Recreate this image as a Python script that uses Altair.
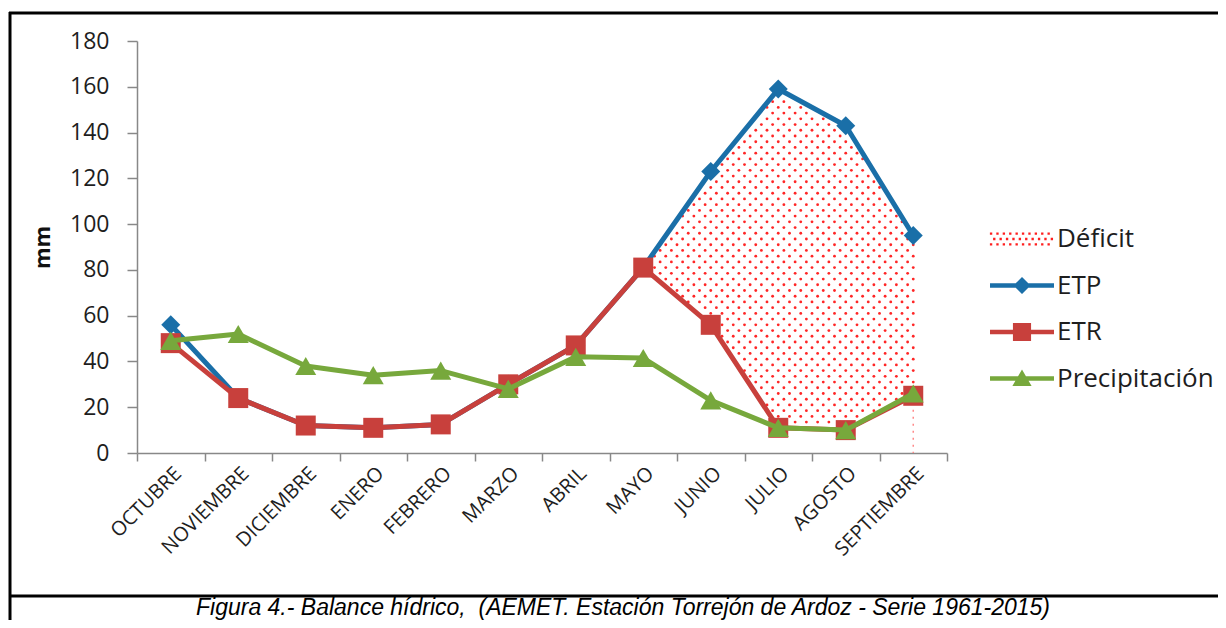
import altair as alt
import pandas as pd

# ---------------- data ----------------
months = ["OCTUBRE", "NOVIEMBRE", "DICIEMBRE", "ENERO", "FEBRERO", "MARZO",
          "ABRIL", "MAYO", "JUNIO", "JULIO", "AGOSTO", "SEPTIEMBRE"]
etp = [56, 24, 12, 11, 12.5, 30, 47, 81, 123, 159, 143, 95]
etr = [48, 24, 12, 11, 12.5, 30, 47, 81, 56, 11, 10, 25]
precip = [49, 52, 38, 34, 36, 28, 42, 41.5, 23, 11, 10, 26]
series = ["Déficit", "ETP", "ETR", "Precipitación"]
colors = ["#ff1f1f", "#1a6fa8", "#c8403c", "#77a83c"]
deficit_from, deficit_to = "MAYO", "SEPTIEMBRE"
y_ticks = list(range(0, 181, 20))
y_title = "mm"
caption = "Figura 4.- Balance hídrico,\u00a0 (AEMET. Estación Torrejón de Ardoz - Serie 1961-2015)"

df = pd.DataFrame({"mes": months, "etp": etp, "etr": etr, "precip": precip})

i0, i1 = months.index(deficit_from), months.index(deficit_to)
seg = pd.DataFrame({
    "i": list(range(i0, i1)),
    "etp0": etp[i0:i1], "etp1": etp[i0 + 1:i1 + 1],
    "etr0": etr[i0:i1], "etr1": etr[i0 + 1:i1 + 1],
    "last": [0] * (i1 - i0 - 1) + [1],
})

FONT = "Open Sans"
TXT = "#1e1e1e"
AX = "#888888"


def xdef():
    return alt.X("mes:N", sort=months, bandPosition=0.5,
                 scale=alt.Scale(type="band", domain=months, paddingInner=0, paddingOuter=0),
                 axis=alt.Axis(title=None, tickBand="extent", labelAngle=-45, labelAlign="right",
                               labelBaseline="top", labelPadding=2, tickSize=8,
                               labelFont=FONT, labelFontSize=20, labelColor=TXT,
                               domainColor=AX, tickColor=AX, domainWidth=1.5, tickWidth=1.5,
                               labelOverlap=False))


def ydef(field):
    return alt.Y(f"{field}:Q", scale=alt.Scale(domain=[0, 180], nice=False, zero=True),
                 axis=alt.Axis(title=y_title, values=y_ticks, grid=False, tickSize=10, labelPadding=18,
                               labelFont=FONT, labelFontSize=23, labelColor=TXT,
                               domainColor=AX, tickColor=AX, domainWidth=1.5, tickWidth=1.5,
                               titleFont=FONT, titleFontSize=22, titleFontWeight="bold",
                               titleColor="#111111", titleX=-95, titleY=206, titleAngle=-90,
                               titleAlign="center", titleBaseline="middle"))


def series_layer(field, color, shape, size):
    return alt.Chart(df).mark_line(
        color=color, strokeWidth=5, strokeJoin="round", strokeCap="round",
        point=alt.OverlayMarkDef(shape=shape, size=size, filled=True, color=color, opacity=1)
    ).encode(x=xdef(), y=ydef(field))


# dotted deficit fill (points interpolated between ETR and ETP, diagonal lattice)
NSTEP = 12
dots = alt.Chart(seg).transform_calculate(
    k=f"sequence(0, datum.last == 1 ? {NSTEP + 1} : {NSTEP})"
).transform_flatten(["k"]).transform_calculate(
    t=f"datum.i + datum.k / {NSTEP}",
    col=f"datum.i * {NSTEP} + datum.k",
    top=f"datum.etp0 + (datum.etp1 - datum.etp0) * datum.k / {NSTEP}",
    bot=f"datum.etr0 + (datum.etr1 - datum.etr0) * datum.k / {NSTEP}",
).transform_calculate(
    yy="sequence((datum.col % 2) * 2.5 + 1.0, 180, 5)"
).transform_flatten(["yy"]).transform_filter(
    "datum.yy > datum.bot + 1.5 && datum.yy < datum.top - 1.5"
).mark_point(shape="circle", filled=True, size=8, color="#ff1a1a", opacity=0.95).encode(
    x=alt.X("t:Q", scale=alt.Scale(domain=[-0.5, 11.5], nice=False, zero=False), axis=None),
    y=ydef("yy"),
)

sep_rule = alt.Chart(df).transform_filter(alt.datum.mes == deficit_to).transform_calculate(
    base="0"
).mark_rule(color="#ff8a8a", strokeDash=[2, 5], strokeWidth=1.5).encode(
    x=xdef(), y=ydef("etr"), y2="base:Q"
)

etp_l = series_layer("etp", colors[1], "diamond", 360)
etr_l = series_layer("etr", colors[2], "square", 400)
pr_l = series_layer("precip", colors[3], "triangle-up", 440)


# legend symbols (line + marker shapes)
def dot_path():
    parts = []
    for r, yv in enumerate([-0.5, 0.0, 0.5]):
        x = -2.9 + (0.3 if r % 2 else 0.0)
        while x <= 2.95:
            parts.append(f"M{x-0.11:.2f},{yv-0.11:.2f}L{x+0.11:.2f},{yv-0.11:.2f}"
                         f"L{x+0.11:.2f},{yv+0.11:.2f}L{x-0.11:.2f},{yv+0.11:.2f}Z")
            x += 0.6
    return "".join(parts)


bar = "M-3,-0.22L3,-0.22L3,0.22L-3,0.22Z"
paths = [
    dot_path(),
    bar + "M0,-0.8L0.8,0L0,0.8L-0.8,0Z",
    bar + "M-0.85,-0.85L0.85,-0.85L0.85,0.85L-0.85,0.85Z",
    bar + "M0,-0.85L0.9,0.7L-0.9,0.7Z",
]

leg_props = dict(orient="none", legendX=872, legendY=185, title=None, symbolSize=455,
                 symbolStrokeWidth=0, symbolOpacity=1, labelFont=FONT, labelFontSize=26,
                 labelColor=TXT, labelOffset=22, rowPadding=20.5, padding=0, direction="vertical")

legend_df = pd.DataFrame({"serie": series})
leg = alt.Chart(legend_df).transform_filter("false").mark_point(filled=True).encode(
    color=alt.Color("serie:N", scale=alt.Scale(domain=series, range=colors), legend=alt.Legend(**leg_props)),
    shape=alt.Shape("serie:N", scale=alt.Scale(domain=series, range=paths), legend=alt.Legend(**leg_props)),
)

# frame and caption
one = pd.DataFrame({"a": [0]})
frame_top = alt.Chart(one).mark_rule(color="black", strokeWidth=3).encode(
    x=alt.value(-128), x2=alt.value(1100), y=alt.value(-28))
frame_left = alt.Chart(one).mark_rule(color="black", strokeWidth=3).encode(
    x=alt.value(-127), y=alt.value(-29), y2=alt.value(600))
frame_div = alt.Chart(one).mark_rule(color="black", strokeWidth=3).encode(
    x=alt.value(-128), x2=alt.value(1100), y=alt.value(555))
cap = alt.Chart(one).mark_text(text=caption, font="Liberation Sans", fontStyle="italic", fontSize=23,
                               align="center", baseline="alphabetic", color="black").encode(
    x=alt.value(486), y=alt.value(574))

inner = alt.layer(sep_rule, etp_l, etr_l, pr_l, leg, frame_top, frame_left, frame_div, cap)

chart = alt.layer(dots, inner).resolve_scale(x="independent").properties(
    width=810, height=412,
    padding={"left": 129, "top": 33, "right": 271, "bottom": 167},
    autosize=alt.AutoSizeParams(type="none"),
    background="white",
).configure_view(strokeWidth=0)

chart.save("out.html", embed_options={"renderer": "svg", "actions": False})
